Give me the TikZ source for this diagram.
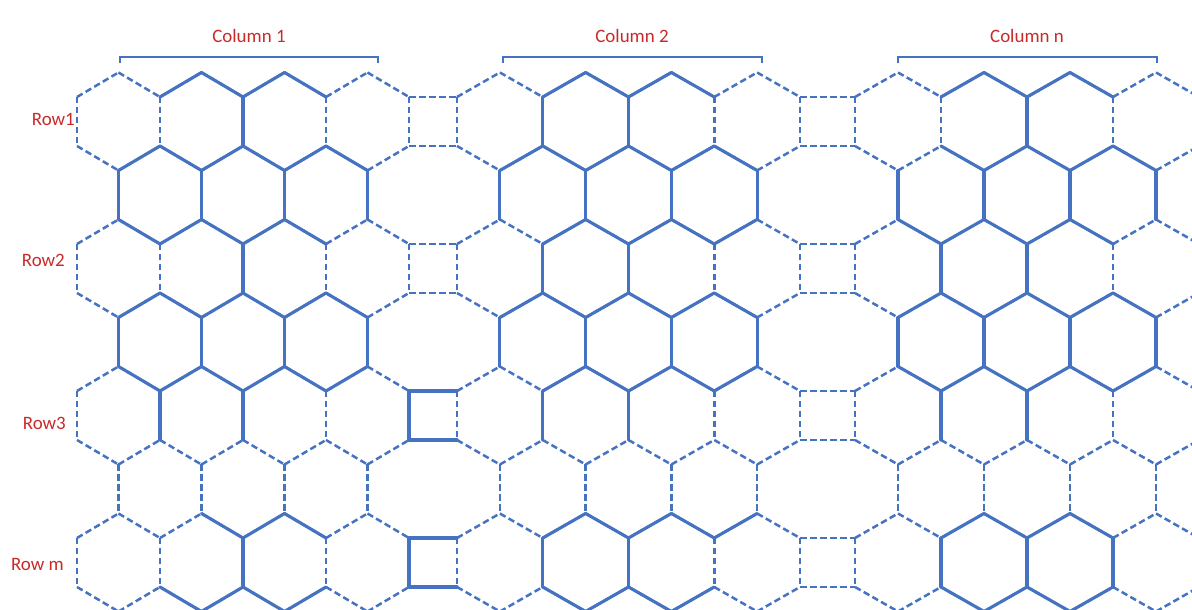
\documentclass[tikz,border=0pt]{standalone}
\usepackage{fontspec}
\setmainfont{Carlito}
\definecolor{hexblue}{RGB}{70,114,194}
\definecolor{labred}{RGB}{200,42,42}
\begin{document}
\begin{tikzpicture}[x=1bp,y=1bp,
  dsh/.style={hexblue, line width=2.5bp, dash pattern=on 6.5bp off 3.5bp},
  sld/.style={hexblue, line width=3.1bp, line cap=round},
  brk/.style={hexblue, line width=2.9bp},
  lab/.style={labred, font=\fontsize{19}{22}\selectfont, inner sep=0pt}]
\useasboundingbox (0,0) rectangle (1192,610);
\clip (0,0) rectangle (1192,610);
% lattice points p<column>-<k>-<level>
\foreach \c/\xo/\w in {1/77/83, 2/457/85.75, 3/855/86}{
  \foreach \k in {0,...,8}{
    \foreach \n in {0,...,15}{
      \pgfmathsetmacro{\py}{610-(72.5+73.5*floor(\n/2)+24.5*mod(\n,2))}
      \coordinate (p\c-\k-\n) at ({\xo+\k*\w/2},\py);
}}}
% ---------- all edges dashed ----------
\foreach \c in {1,2,3}{
  % zigzag (slanted) edges
  \foreach \m in {0,...,7}{
    \foreach \j in {0,...,7}{
      \pgfmathtruncatemacro{\jj}{\j+1}
      \pgfmathtruncatemacro{\la}{2*\m+mod(\j+\m+1,2)}
      \pgfmathtruncatemacro{\lb}{2*\m+mod(\j+\m,2)}
      \draw[dsh] (p\c-\j-\la) -- (p\c-\jj-\lb);
  }}
  % vertical edges
  \foreach \r in {0,...,6}{
    \foreach \k in {0,...,8}{
      \pgfmathtruncatemacro{\pty}{mod(\k+\r,2)}
      \pgfmathtruncatemacro{\ta}{2*\r+1}
      \pgfmathtruncatemacro{\tb}{2*\r+2}
      \ifnum\pty=0 \draw[dsh] (p\c-\k-\ta) -- (p\c-\k-\tb);\fi
  }}
}
% squares between the columns
\foreach \c/\d in {1/2, 2/3}{
  \foreach \r in {0,2,4,6}{
    \pgfmathtruncatemacro{\ta}{2*\r+1}
    \pgfmathtruncatemacro{\tb}{2*\r+2}
    \draw[dsh] (p\c-8-\ta) -- (p\d-0-\ta);
    \draw[dsh] (p\c-8-\tb) -- (p\d-0-\tb);
}}
% ---------- solid edges ----------
\foreach \c/\m/\ja/\jb in {1/0/2/5, 1/1/1/6, 1/2/1/5, 1/3/1/6, 1/4/1/6, 1/6/3/5, 1/7/2/5,
                         2/0/2/5, 2/1/1/6, 2/2/2/6, 2/3/1/6, 2/4/2/6, 2/6/2/6, 2/7/2/5,
                         3/0/2/5, 3/1/2/6, 3/2/1/5, 3/3/1/6, 3/4/1/6, 3/6/2/5, 3/7/2/5}{
  \foreach \j in {\ja,...,\jb}{
    \pgfmathtruncatemacro{\jj}{\j+1}
    \pgfmathtruncatemacro{\la}{2*\m+mod(\j+\m+1,2)}
    \pgfmathtruncatemacro{\lb}{2*\m+mod(\j+\m,2)}
    \draw[sld] (p\c-\j-\la) -- (p\c-\jj-\lb);
}}
\foreach \c/\r/\k in {1/0/4, 1/1/1, 1/1/3, 1/1/5, 1/1/7, 1/2/4, 1/3/1, 1/3/3, 1/3/5, 1/3/7, 1/4/2, 1/4/4, 1/4/8, 1/6/4, 1/6/8,
                      2/0/2, 2/0/4, 2/1/1, 2/1/3, 2/1/5, 2/1/7, 2/2/2, 2/2/4, 2/3/1, 2/3/3, 2/3/5, 2/3/7, 2/4/2, 2/4/4, 2/6/2, 2/6/4,
                      3/0/4, 3/1/1, 3/1/3, 3/1/5, 3/1/7, 3/2/2, 3/2/4, 3/3/1, 3/3/3, 3/3/5, 3/3/7, 3/4/2, 3/4/4, 3/6/2, 3/6/4, 3/6/6}{
  \pgfmathtruncatemacro{\ta}{2*\r+1}
  \pgfmathtruncatemacro{\tb}{2*\r+2}
  \draw[sld] (p\c-\k-\ta) -- (p\c-\k-\tb);
}
\foreach \ta/\tb in {9/10, 13/14}{
  \draw[sld] (p1-8-\ta) -- (p2-0-\ta);
  \draw[sld] (p1-8-\tb) -- (p2-0-\tb);
}
% ---------- brackets ----------
\draw[brk] (120,547) |- (378,553) -- (378,547);
\draw[brk] (503,547) |- (762,553) -- (762,547);
\draw[brk] (898,547) |- (1157,553) -- (1157,547);
% ---------- labels ----------
\node[lab, anchor=base] (c1) at (249,567) {Column 1};
\node[lab, anchor=base] (c2) at (632,567) {Column 2};
\node[lab, anchor=base] (c3) at (1027,567) {Column n};
\node[lab, anchor=base east] (r1) at (75,484) {Row1};
\node[lab, anchor=base east] (r2) at (65,343) {Row2};
\node[lab, anchor=base east] (r3) at (66,180) {Row3};
\node[lab, anchor=base east] (rm) at (64,39) {Row m};
\end{tikzpicture}
\end{document}
